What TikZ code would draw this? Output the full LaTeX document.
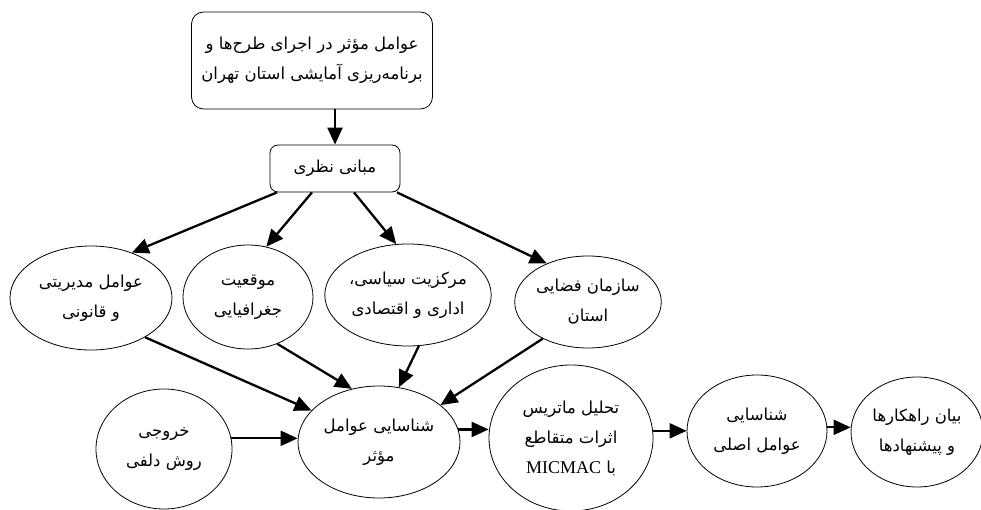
\documentclass[tikz,border=0pt]{standalone}
\usepackage{fontspec}
\setmainfont{Liberation Serif}
\newfontfamily\arabicfont[Script=Arabic]{DejaVu Sans}
\TeXXeTstate=1
\newcommand{\fa}[1]{{\arabicfont\beginR #1\endR}}
\usetikzlibrary{arrows.meta,shapes.geometric}
\begin{document}
\begin{tikzpicture}[x=1pt,y=-1pt,
  box/.style={draw,line width=0.8pt,rounded corners=12pt,inner sep=0pt,align=center},
  oval/.style={draw,ellipse,line width=0.8pt,inner sep=0pt,align=center},
  arr/.style={line width=2.3pt,-{Triangle[length=17pt,width=15pt]}},
  font=\fontsize{16.5}{30}\selectfont]
\useasboundingbox (0,0) rectangle (981,510);
\node[box, minimum width=241pt, minimum height=97pt] (title) at (312,60.5)
  {\fa{عوامل مؤثر در اجرای طرح‌ها و}\\\fa{برنامه‌ریزی آمایشی استان تهران}};
\node[box, rounded corners=8pt, minimum width=130pt, minimum height=47pt] (theory) at (335,168.5)
  {\fa{مبانی نظری}};
\node[oval, minimum width=162pt, minimum height=104pt] (e1) at (91,298)
  {\fa{عوامل مدیریتی}\\\fa{و قانونی}};
\node[oval, minimum width=130pt, minimum height=104pt] (e2) at (248,297)
  {\fa{موقعیت}\\\fa{جغرافیایی}};
\node[oval, minimum width=162pt, minimum height=102pt] (e3) at (408,295)
  {\fa{مرکزیت سیاسی،}\\\fa{اداری و اقتصادی}};
\node[oval, minimum width=146pt, minimum height=92pt] (e4) at (588,302)
  {\fa{سازمان فضایی}\\\fa{استان}};
\node[oval, minimum width=136pt, minimum height=120pt] (e5) at (164,449)
  {\fa{خروجی}\\\fa{روش دلفی}};
\node[oval, minimum width=162pt, minimum height=112pt] (e6) at (379,442)
  {\fa{شناسایی عوامل}\\\fa{مؤثر}};
\node[oval, minimum width=164pt, minimum height=146pt] (e7) at (571,438)
  {\fa{تحلیل ماتریس}\\\fa{اثرات متقاطع}\\{\arabicfont\beginR با \beginL{\rmfamily\fontsize{18}{30}\selectfont MICMAC}\endL\endR}};
\node[oval, minimum width=140pt, minimum height=112pt] (e8) at (757,431)
  {\fa{شناسایی}\\\fa{عوامل اصلی}};
\node[oval, minimum width=132pt, minimum height=110pt] (e9) at (917,432)
  {\fa{بیان راهکارها}\\\fa{و پیشنهادها}};
\draw[arr] (title.south -| theory.north) -- (theory.north);
\draw[arr] ([xshift=-58pt]theory.south) -- (e1.48);
\draw[arr] ([xshift=-23pt]theory.south) -- (e2.70);
\draw[arr] ([xshift=19pt]theory.south) -- (e3.103);
\draw[arr] ([xshift=62pt]theory.south) -- (e4.137);
\draw[arr] (e1.-36) -- (e6.155);
\draw[arr] (e2.-58) -- (e6.117);
\draw[arr] (e3.-78) -- (e6.70);
\draw[arr] (e4.219) -- (e6.31);
\draw[arr] (e5.9) -- (e5.9 -| e6.west);
\draw[arr] (e6.9) -- (e6.9 -| e7.west);
\draw[arr] (e7.5) -- (e7.5 -| e8.west);
\draw[arr] (e8.3) -- (e8.3 -| e9.west);
\end{tikzpicture}
\end{document}
